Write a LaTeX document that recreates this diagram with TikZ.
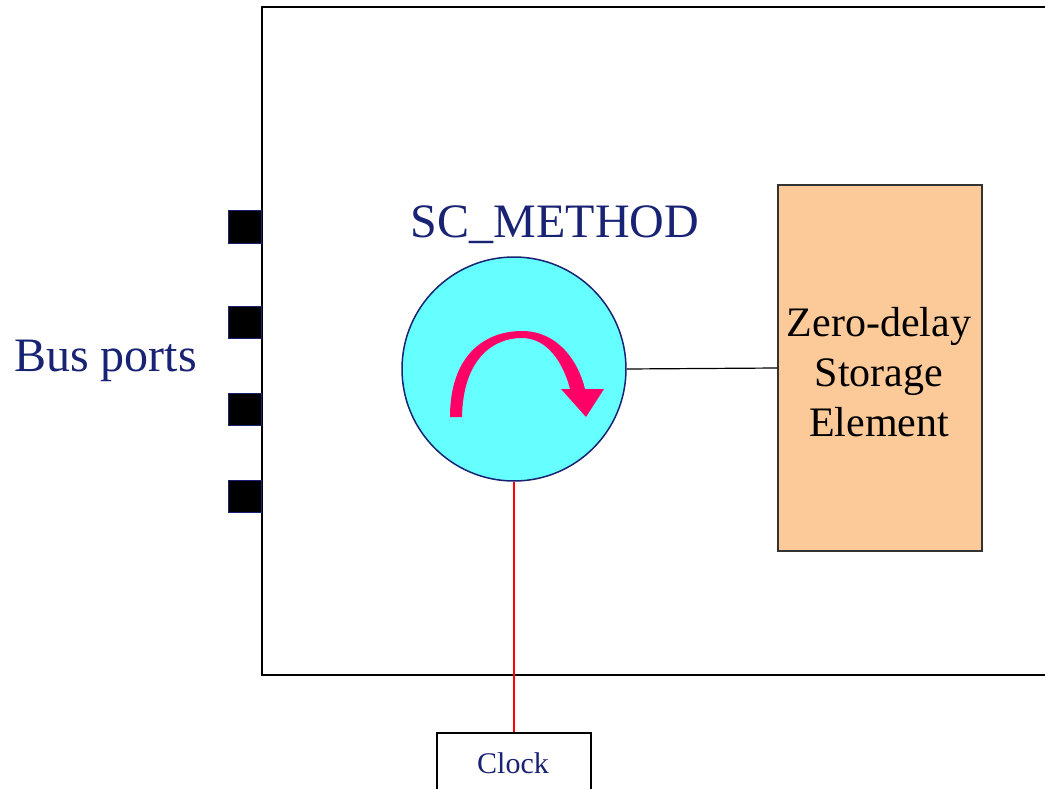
\documentclass[tikz,border=0pt]{standalone}
\usepackage{fontspec}
\setmainfont{Liberation Serif}
\definecolor{navy}{RGB}{25,35,115}
\definecolor{cyanfill}{RGB}{102,255,255}
\definecolor{peach}{RGB}{252,201,152}
\definecolor{loopred}{RGB}{255,0,102}
\begin{document}
\begin{tikzpicture}[x=1pt,y=-1pt,
  port/.style={draw=navy,fill=black,line width=1pt,minimum width=33pt,minimum height=32pt,inner sep=0pt},
  navytext/.style={text=navy,inner sep=0pt}]
\useasboundingbox (0,0) rectangle (1045,789);
% module outline (runs off the right edge)
\draw[line width=2pt] (1060,7) -- (262,7) -- (262,675) -- (1060,675);
% bus ports
\node[port] (p1) at (244.5,227) {};
\node[port] (p2) at (244.5,322) {};
\node[port] (p3) at (244.5,409) {};
\node[port] (p4) at (244.5,496) {};
\node[navytext,anchor=base west,font=\fontsize{48}{52}\selectfont] (bus) at (14,371) {Bus ports};
% process
\node[navytext,anchor=base,font=\fontsize{48}{52}\selectfont] (title) at (555,237) {SC\_METHOD};
\node[circle,draw=navy,fill=cyanfill,line width=1.5pt,minimum size=224pt,inner sep=0pt] (m) at (514,369) {};
% loop arrow
\fill[loopred] (450,417) .. controls (450,355) and (485,331) .. (522,331)
  .. controls (557,331) and (578,360) .. (585,389) -- (604,389) -- (586,417) -- (561,389) -- (570,389)
  .. controls (563,362) and (547,338) .. (522,338)
  .. controls (492,338) and (463,360) .. (462,417) -- cycle;
% storage element
\node[draw=black!80,fill=peach,line width=1.2pt,minimum width=204pt,minimum height=366pt,inner sep=0pt] (st) at (880,368) {};
\node[align=center,font=\fontsize{42}{50}\selectfont,inner sep=0pt] (stt) at (879,372) {Zero-delay\\Storage\\Element};
\draw[line width=1.2pt] (m.east) -- (st.west);
% clock
\node[draw=black,line width=1.5pt,minimum width=154pt,minimum height=70pt,anchor=north,inner sep=0pt] (clk) at (514,732) {};
\node[navytext,anchor=base,font=\fontsize{30}{34}\selectfont] (clkt) at (513,773) {Clock};
\draw[red,line width=1.5pt] (m.south) -- (clk.north);
\end{tikzpicture}
\end{document}
